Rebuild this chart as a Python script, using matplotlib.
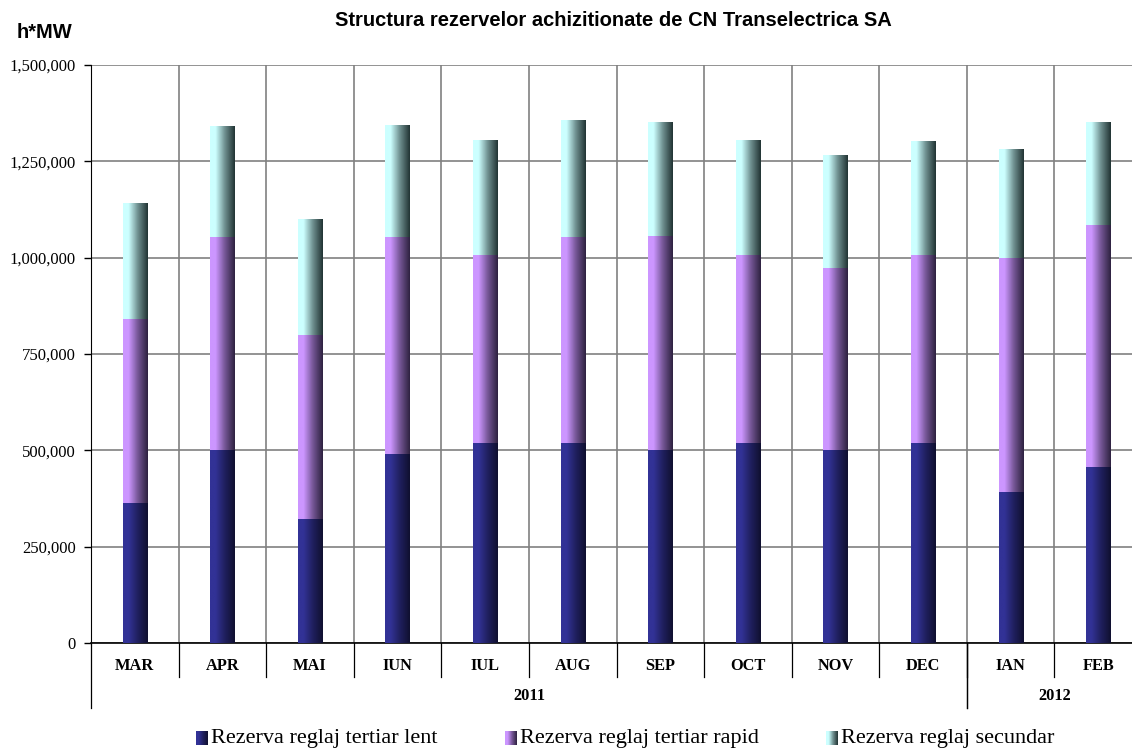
import numpy as np
import matplotlib
matplotlib.use('Agg')
import matplotlib.pyplot as plt
from matplotlib.colors import LinearSegmentedColormap
from matplotlib.ticker import FuncFormatter

# date (h*MW)
months = ['MAR', 'APR', 'MAI', 'IUN', 'IUL', 'AUG', 'SEP', 'OCT', 'NOV', 'DEC', 'IAN', 'FEB']
years = [('2011', 0, 10), ('2012', 10, 12)]
lent = [363000, 501000, 323000, 491000, 519000, 519000, 501000, 519000, 501000, 519000, 392000, 457000]
rapid = [478000, 553000, 476000, 563000, 488000, 535000, 555000, 488000, 473000, 488000, 608000, 628000]
secundar = [301000, 288000, 301000, 290000, 298000, 303000, 294000, 298000, 293000, 295000, 282000, 267000]
labels = ['Rezerva reglaj tertiar lent', 'Rezerva reglaj tertiar rapid', 'Rezerva reglaj secundar']

SERIF = ['Liberation Serif', 'DejaVu Serif']
SANS = ['Liberation Sans', 'DejaVu Sans']


def grad_cmap(light, dark):
    light = np.array(light) / 255.0
    dark = np.array(dark) / 255.0
    mid = light * 0.45 + dark * 0.55
    return LinearSegmentedColormap.from_list('g', [(0, light), (0.22, light), (0.6, mid), (1, dark)])


cmaps = [grad_cmap((50, 50, 150), (16, 16, 48)),
         grad_cmap((204, 150, 255), (46, 34, 64)),
         grad_cmap((204, 255, 255), (34, 52, 52))]
grad = np.linspace(0, 1, 64).reshape(1, -1)

W, H = 1132, 748
fig = plt.figure(figsize=(W / 100, H / 100), dpi=100)
ax = fig.add_axes([91 / W, 1 - 643 / H, 1051 / W, 578 / H])

x = np.arange(len(months))
bw = 0.275
bottom = np.zeros(len(months))
for vals, cm in zip([lent, rapid, secundar], cmaps):
    vals = np.array(vals, dtype=float)
    for xi, b, v in zip(x, bottom, vals):
        ax.imshow(grad, cmap=cm, extent=[xi - bw / 2, xi + bw / 2, b, b + v],
                  aspect='auto', zorder=3, interpolation='bilinear')
    bottom += vals

ax.set_xlim(-0.5, len(months) - 0.5)
ax.set_ylim(0, 1500000)
ax.set_aspect('auto')

ax.set_yticks(np.arange(0, 1500001, 250000))
ax.yaxis.set_major_formatter(FuncFormatter(lambda v, p: f'{int(v):,}'))
ax.tick_params(axis='y', direction='out', length=5, width=1, pad=6, labelsize=12)
for t in ax.get_yticklabels():
    t.set_family(SERIF)
ax.set_xticks(np.arange(-0.5, len(months), 1))
ax.set_xticklabels([])
ax.tick_params(axis='x', length=0)
ax.grid(True, color='#808080', lw=1.2, zorder=1)
for s in ['top', 'right']:
    ax.spines[s].set_visible(False)
ax.spines['left'].set_color('black')
ax.spines['bottom'].set_color('black')
ax.spines['bottom'].set_linewidth(1.2)

# axa de categorii pe doua niveluri
tr = ax.get_xaxis_transform()
for i, m in enumerate(months):
    ax.text(i, -23 / 578, m, transform=tr, ha='center', va='center',
            fontsize=11.8, fontweight='bold', family=SERIF)
for i in range(1, len(months)):
    ax.plot([i - 0.5, i - 0.5], [0, -34 / 578], transform=tr, color='black', lw=0.9, clip_on=False)
for name, a, b in years:
    ax.text((a + b) / 2 - 0.5, -53 / 578, name, transform=tr, ha='center', va='center',
            fontsize=11.8, fontweight='bold', family=SERIF)
    for e in (a, b):
        ax.plot([e - 0.5, e - 0.5], [0, -65 / 578], transform=tr, color='black', lw=0.9, clip_on=False)

fig.text(613 / W, 1 - 21 / H, 'Structura rezervelor achizitionate de CN Transelectrica SA',
         ha='center', va='center', fontsize=14.5, fontweight='bold', family=SANS)
fig.text(17 / W, 1 - 33 / H, 'h*MW', ha='left', va='center', fontsize=14.5,
         fontweight='bold', family=SANS)

# legenda
leg_x = [196, 505, 826]
for lx, lab, cm in zip(leg_x, labels, cmaps):
    sq = fig.add_axes([lx / W, 1 - 745 / H, 12 / W, 14 / H])
    sq.imshow(grad, cmap=cm, aspect='auto', interpolation='bilinear')
    sq.axis('off')
    fig.text((lx + 15) / W, 1 - 738 / H, lab, ha='left', va='center',
             fontsize=16, family=SERIF)

fig.savefig('out.png', dpi=100)
